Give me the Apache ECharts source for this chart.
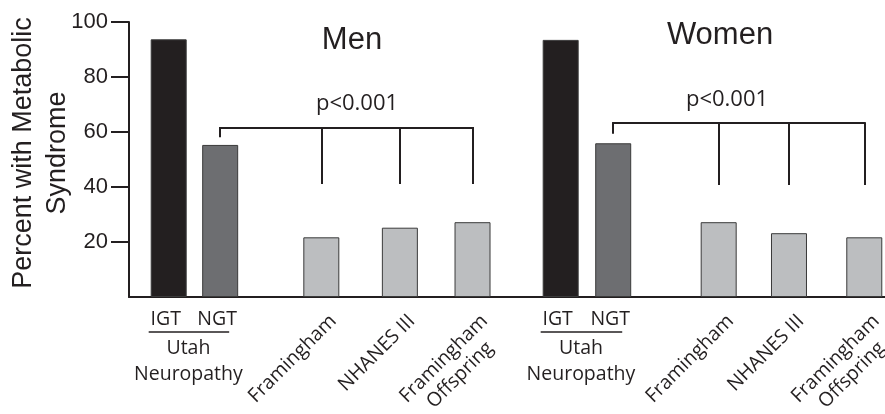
<!DOCTYPE html>
<html>
<head>
<meta charset="utf-8">
<script src="https://cdn.jsdelivr.net/npm/echarts@6/dist/echarts.min.js"></script>
<style>
html, body { margin: 0; padding: 0; background: #fff; }
#chart { width: 885px; height: 414px; }
</style>
</head>
<body>
<div id="chart"></div>
<script>
// position of each bar along the x axis (0-100 across the plot)
const slots = [5.25, 12.06, 25.44, 35.83, 45.44, 57.1, 64.05, 78.0, 87.3, 97.26]
const groups = ['IGT', 'NGT', 'Framingham', 'NHANES III', 'Framingham\nOffspring',
  'IGT', 'NGT', 'Framingham', 'NHANES III', 'Framingham\nOffspring']
const kinds = ['igt', 'ngt', 'ref', 'ref', 'ref', 'igt', 'ngt', 'ref', 'ref', 'ref']
const values = [93.7, 55.3, 21.7, 25.2, 27.2, 93.5, 55.9, 27.2, 23.2, 21.7]
const yTicks = [20, 40, 60, 80, 100]
const panels = ['Men', 'Women']
const pLabel = 'p<0.001'
const cohort = 'Utah\nNeuropathy'
// bracket levels per panel (percent)
const bracketTop = [61.5, 63.2]
const bracketShort = [58.5, 59.7]
const bracketLong = [41.5, 41.1]

const ink = '#231f20'
const colors = { igt: '#231f20', ngt: '#6d6e71', ref: '#bcbec0' }
const sans = 'Liberation Sans'
const humanist = 'Open Sans'

let myChart = echarts.init(document.getElementById('chart'))

// bracket segments built from the slots
const bracketLines = []
panels.forEach((p, k) => {
  const base = k * 5
  const top = bracketTop[k]
  bracketLines.push([{ coord: [slots[base + 1], top] }, { coord: [slots[base + 4], top] }])
  bracketLines.push([{ coord: [slots[base + 1], top] }, { coord: [slots[base + 1], bracketShort[k]] }])
  for (let i = 2; i <= 4; i++) {
    bracketLines.push([{ coord: [slots[base + i], top] }, { coord: [slots[base + i], bracketLong[k]] }])
  }
})

const option = {
  animation: false,
  grid: { left: 129, right: 0, top: 22, bottom: 117 },
  xAxis: {
    type: 'value',
    min: 0,
    max: 100,
    splitLine: { show: false },
    axisTick: { show: false },
    axisLabel: { show: false },
    axisLine: { show: true, lineStyle: { color: ink, width: 2 } }
  },
  yAxis: {
    type: 'value',
    min: 0,
    max: 100,
    interval: 20,
    splitLine: { show: false },
    axisLine: { show: true, lineStyle: { color: ink, width: 2 } },
    axisTick: {
      show: true,
      length: 18,
      customValues: yTicks,
      lineStyle: { color: ink, width: 2 }
    },
    axisLabel: {
      customValues: yTicks,
      margin: 21,
      fontFamily: sans,
      fontSize: 22,
      color: ink
    }
  },
  series: [
    {
      type: 'bar',
      barWidth: 36,
      data: values.map((v, i) => ({
        value: [slots[i], v],
        itemStyle: { color: colors[kinds[i]], borderColor: '#3a3a3a', borderWidth: 1 }
      })),
      markLine: {
        silent: true,
        symbol: ['none', 'none'],
        label: { show: false },
        lineStyle: { color: ink, width: 2, type: 'solid', cap: 'square' },
        data: bracketLines
      }
    }
  ]
}
myChart.setOption(option)

// text labels placed through the axes
const measure = document.createElement('canvas').getContext('2d')
function textWidth(str, font) {
  measure.font = font
  return measure.measureText(str).width
}
const px = (x, y) => myChart.convertToPixel({ gridIndex: 0 }, [x, y])
const axisY = px(0, 0)[1]

const graphic = []
// y axis name
graphic.push({
  type: 'text',
  x: 41,
  y: 153,
  rotation: Math.PI / 2,
  style: {
    text: 'Percent with Metabolic\nSyndrome',
    font: '27px "' + sans + '"',
    lineHeight: 34,
    align: 'center',
    verticalAlign: 'middle',
    fill: ink
  }
})
// panel titles and p values
const titlePos = [[352, 40], [720, 35]]
const pPos = [[357, 104], [727, 100]]
panels.forEach((p, k) => {
  graphic.push({
    type: 'text',
    x: titlePos[k][0],
    y: titlePos[k][1],
    style: { text: p, font: '31px "' + sans + '"', align: 'center', verticalAlign: 'middle', fill: ink }
  })
  graphic.push({
    type: 'text',
    x: pPos[k][0],
    y: pPos[k][1],
    style: { text: pLabel, font: '22px "' + humanist + '"', align: 'center', verticalAlign: 'middle', fill: ink }
  })
})

const labelFont = '19.5px "' + humanist + '"'
groups.forEach((g, i) => {
  const cx = px(slots[i], 0)[0]
  if (kinds[i] !== 'ref') {
    graphic.push({
      type: 'text',
      x: cx - 3,
      y: axisY + 22,
      style: { text: g, font: labelFont, align: 'center', verticalAlign: 'middle', fill: ink }
    })
    return
  }
  const lines = g.split('\n')
  const w0 = textWidth(lines[0], labelFont)
  const children = lines.map((ln, j) => ({
    type: 'text',
    x: -(w0 - textWidth(ln, labelFont)) / 2,
    y: j * 23,
    style: { text: ln, font: labelFont, align: 'right', verticalAlign: 'middle', fill: ink }
  }))
  graphic.push({
    type: 'group',
    x: cx + 12,
    y: axisY + 21,
    rotation: Math.PI / 4,
    children
  })
})

// cohort caption under IGT / NGT
panels.forEach((p, k) => {
  const a = px(slots[k * 5], 0)[0]
  const b = px(slots[k * 5 + 1], 0)[0]
  graphic.push({
    type: 'line',
    shape: { x1: a - 20, y1: axisY + 35, x2: b + 9, y2: axisY + 35 },
    style: { stroke: ink, lineWidth: 1.3 }
  })
  graphic.push({
    type: 'text',
    x: (a + b) / 2 - 6,
    y: axisY + 64,
    style: { text: cohort, font: labelFont, lineHeight: 26, align: 'center', verticalAlign: 'middle', fill: ink }
  })
})

myChart.setOption({ graphic })
</script>
</body>
</html>
